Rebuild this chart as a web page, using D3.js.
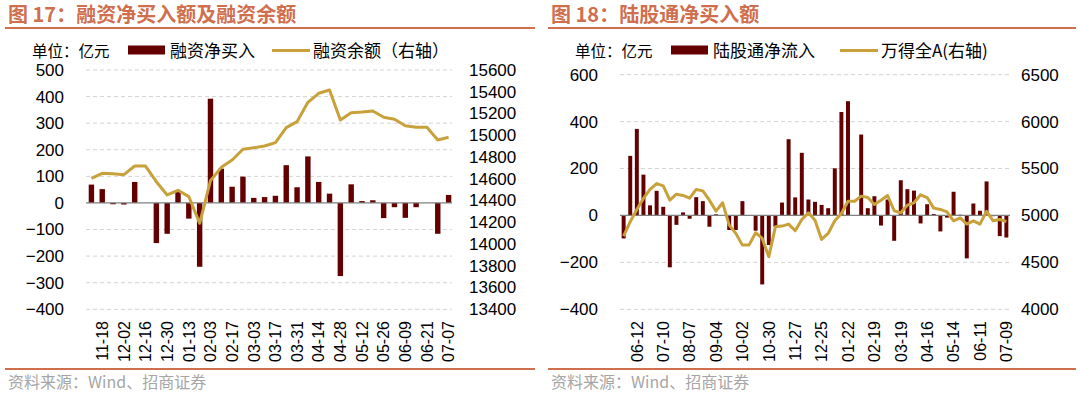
<!DOCTYPE html>
<html>
<head>
<meta charset="utf-8">
<script src="https://cdn.jsdelivr.net/npm/d3@7"></script>
<style>
  html, body { margin: 0; padding: 0; background: #fff; }
  svg { display: block; font-family: "Liberation Sans", Arial, "Noto Sans CJK SC", sans-serif; }
</style>
</head>
<body>
<svg id="chart" width="1080" height="398"></svg>
<script>
// Figure 17: margin financing, weekly
const finTickLabels = ['11-18', '12-02', '12-16', '12-30', '01-13', '02-03', '02-17', '03-03', '03-17',
    '03-31', '04-14', '04-28', '05-12', '05-26', '06-09', '06-21', '07-07'];
const finNetBuy = [69, 52, -5, -6, 79, 0, -151, -116, 41, -59, -240, 392, 129, 61, 99, 19, 22, 27,
    142, 59, 175, 79, 35, -275, 70, 7, 10, -57, -16, -56, -16, 0, -116, 30];
const finBalance = [14604, 14650, 14647, 14638, 14717, 14717, 14573, 14451, 14494, 14436, 14191, 14583,
    14705, 14773, 14871, 14885, 14901, 14932, 15070, 15125, 15303, 15386, 15416, 15140, 15208, 15214,
    15223, 15165, 15147, 15088, 15073, 15073, 14957, 14981];
const finLeftTicks = [500, 400, 300, 200, 100, 0, -100, -200, -300, -400];
const finRightTicks = [15600, 15400, 15200, 15000, 14800, 14600, 14400, 14200, 14000, 13800, 13600, 13400];

// Figure 18: northbound (HK Stock Connect) flows, weekly
const hkTickLabels = ['06-12', '07-10', '08-07', '09-04', '10-02', '10-30', '11-27', '12-25', '01-22',
    '02-19', '03-19', '04-16', '05-14', '06-11', '07-09'];
const hkNetInflow = [-98, 254, 369, 174, 43, 105, 37, -221, -40, 13, -14, 78, 61, -48, 5, 0, -62, -62,
    61, 0, -65, -294, -126, -48, 55, 325, 77, 267, 68, 58, 45, 31, 201, 441, 487, 0, 345, 31, 82, -43,
    68, -108, 150, 112, 106, -34, 48, 6, -68, -9, 101, 3, -183, 51, 20, 145, -3, -88, -94];
const windA = [4780, 4933, 5064, 5181, 5277, 5340, 5316, 5163, 5227, 5213, 5184, 5277, 5262, 5163, 5046,
    5135, 4897, 4809, 4684, 4684, 4816, 4755, 4560, 4879, 4887, 4908, 4837, 4957, 5028, 4950, 4745, 4809,
    4943, 5021, 5152, 5152, 5206, 5191, 5117, 5163, 5213, 5050, 5028, 5110, 5135, 5220, 5191, 5078, 5064,
    5039, 4943, 4975, 4908, 4943, 4908, 5043, 4943, 4957, 4936];
const hkLeftTicks = [600, 400, 200, 0, -200, -400];
const hkRightTicks = [6500, 6000, 5500, 5000, 4500, 4000];

const BAR = '#640000';
const GOLD = '#C9A13B';
const ACCENT = '#CF6F4E';
const CJK = '"Noto Sans CJK SC", "Liberation Sans", sans-serif';

const svg = d3.select('#chart');

function drawPanel(cfg) {
    const g = svg.append('g');

    // title + rules
    g.append('text')
        .attr('x', cfg.x0 + 3).attr('y', 22)
        .style('font-family', CJK).style('font-weight', 'bold')
        .style('font-size', '20px').style('fill', ACCENT)
        .text(cfg.title);
    g.append('line')
        .attr('x1', cfg.x0).attr('x2', cfg.x1).attr('y1', 28).attr('y2', 28)
        .style('stroke', ACCENT).style('stroke-width', 2.2);
    g.append('line')
        .attr('x1', cfg.x0).attr('x2', cfg.x1).attr('y1', 369).attr('y2', 369)
        .style('stroke', ACCENT).style('stroke-width', 2);
    g.append('text')
        .attr('x', cfg.x0 + 3).attr('y', 388)
        .style('font-family', CJK).style('font-size', '16px').style('fill', '#a6a6a6')
        .text('资料来源：Wind、招商证券');

    // scales
    const n = cfg.bars.length;
    const x = d3.scaleBand()
        .domain(d3.range(n))
        .range([cfg.plotL, cfg.plotR])
        .paddingInner(cfg.padInner)
        .paddingOuter(cfg.padOuter);
    const yL = d3.scaleLinear().domain(cfg.leftDomain).range([309.3, cfg.plotTop]);
    const yR = d3.scaleLinear().domain(cfg.rightDomain).range([309.3, cfg.plotTop]);
    const cx = i => x(i) + x.bandwidth() / 2;

    // gridlines
    g.append('g').selectAll('line')
        .data(cfg.leftTicks.filter(d => d !== 0))
        .join('line')
        .attr('x1', cfg.gridL).attr('x2', cfg.gridR)
        .attr('y1', d => yL(d)).attr('y2', d => yL(d))
        .style('stroke', '#d4d4d4').style('stroke-width', 1)
        .style('stroke-dasharray', '4,3');

    // left axis
    const axL = g.append('g')
        .attr('transform', `translate(${cfg.leftLabelX},0)`)
        .call(d3.axisLeft(yL).tickValues(cfg.leftTicks).tickFormat(d3.format('d')).tickSize(0).tickPadding(0));
    axL.select('.domain').remove();
    axL.selectAll('text').style('font-size', '17px').style('fill', '#000')
        .style('font-family', '"Liberation Sans", Arial, sans-serif');

    // right axis
    const axR = g.append('g')
        .attr('transform', `translate(${cfg.rightLabelX},0)`)
        .call(d3.axisRight(yR).tickValues(cfg.rightTicks).tickFormat(d3.format('d')).tickSize(0).tickPadding(0));
    axR.select('.domain').remove();
    axR.selectAll('text').style('font-size', '17px').style('fill', '#000')
        .style('font-family', '"Liberation Sans", Arial, sans-serif');

    // bars
    g.append('g').selectAll('rect')
        .data(cfg.bars)
        .join('rect')
        .attr('x', (d, i) => x(i))
        .attr('width', x.bandwidth())
        .attr('y', d => yL(Math.max(0, d)))
        .attr('height', d => Math.abs(yL(d) - yL(0)))
        .style('fill', BAR);

    // zero line
    g.append('line')
        .attr('x1', cfg.gridL).attr('x2', cfg.gridR)
        .attr('y1', yL(0)).attr('y2', yL(0))
        .style('stroke', '#7f7f7f').style('stroke-width', 1.3);

    // line on right axis
    const line = d3.line()
        .x((d, i) => cx(i))
        .y(d => yR(d));
    g.append('path')
        .datum(cfg.line)
        .attr('d', line)
        .style('fill', 'none')
        .style('stroke', GOLD)
        .style('stroke-width', 3)
        .style('stroke-linejoin', 'round');

    // x tick labels (rotated)
    const xTicks = cfg.tickLabels.map((lab, k) => ({ lab, i: cfg.tickStart + k * cfg.tickStep }));
    g.append('g').selectAll('text')
        .data(xTicks)
        .join('text')
        .attr('transform', d => `translate(${cx(d.i)},321) rotate(-90)`)
        .attr('dy', '0.36em')
        .attr('text-anchor', 'end')
        .style('font-size', '16px')
        .style('fill', '#000')
        .text(d => d.lab);

    // legend
    const lg = g.append('g').style('font-family', CJK);
    lg.append('text')
        .attr('x', cfg.legend.unitX).attr('y', 56.5)
        .style('font-size', '15.5px').style('fill', '#000')
        .text('单位：亿元');
    lg.append('rect')
        .attr('x', cfg.legend.rectX).attr('y', 45.5)
        .attr('width', 37).attr('height', 9)
        .style('fill', BAR);
    lg.append('text')
        .attr('x', cfg.legend.rectX + 42).attr('y', 57)
        .style('font-size', '17px').style('fill', '#000')
        .text(cfg.legend.barName);
    lg.append('line')
        .attr('x1', cfg.legend.lineX).attr('x2', cfg.legend.lineX + 38)
        .attr('y1', 50.5).attr('y2', 50.5)
        .style('stroke', GOLD).style('stroke-width', 3);
    lg.append('text')
        .attr('x', cfg.legend.lineX + 41).attr('y', 57)
        .style('font-size', '17px').style('fill', '#000')
        .text(cfg.legend.lineName);
}

drawPanel({
    title: '图 17：融资净买入额及融资余额',
    x0: 5, x1: 535,
    plotL: 86, plotR: 454, padInner: 0.5, padOuter: 0.25,
    gridL: 86, gridR: 452,
    plotTop: 70,
    leftDomain: [-400, 500], rightDomain: [13400, 15600],
    leftTicks: finLeftTicks, rightTicks: finRightTicks,
    leftLabelX: 64, rightLabelX: 469,
    bars: finNetBuy, line: finBalance,
    tickLabels: finTickLabels, tickStart: 1, tickStep: 2,
    legend: { unitX: 32, rectX: 128, barName: '融资净买入', lineX: 272, lineName: '融资余额（右轴）' }
});

drawPanel({
    title: '图 18：陆股通净买入额',
    x0: 548, x1: 1076,
    plotL: 621, plotR: 1009, padInner: 0.4, padOuter: 0.1,
    gridL: 620, gridR: 1010,
    plotTop: 74.7,
    leftDomain: [-400, 600], rightDomain: [4000, 6500],
    leftTicks: hkLeftTicks, rightTicks: hkRightTicks,
    leftLabelX: 598, rightLabelX: 1021,
    bars: hkNetInflow, line: windA,
    tickLabels: hkTickLabels, tickStart: 2, tickStep: 4,
    legend: { unitX: 575, rectX: 671, barName: '陆股通净流入', lineX: 840, lineName: '万得全A(右轴)' }
});
</script>
</body>
</html>
